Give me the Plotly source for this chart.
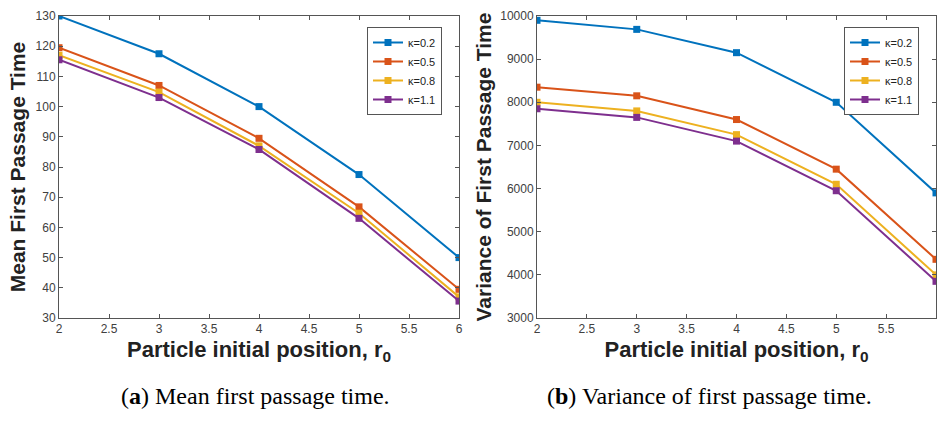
import plotly.graph_objects as go

r0 = [2, 3, 4, 5, 6]
kappa_labels = ["κ=0.2", "κ=0.5", "κ=0.8", "κ=1.1"]
mean_fpt = [
    [130, 117.5, 100, 77.5, 50],
    [119.5, 107, 89.5, 66.8, 39.5],
    [117, 104.8, 87, 64.7, 37],
    [115.5, 103, 85.8, 63, 35.6],
]
var_fpt = [
    [9900, 9690, 9150, 8000, 5900],
    [8350, 8150, 7600, 6450, 4360],
    [8000, 7800, 7250, 6100, 4000],
    [7850, 7650, 7100, 5950, 3850],
]
colors = ["#0072BD", "#D95319", "#EDB120", "#7E2F8E"]

W, H = 937, 425
def fx(px): return px / W
def fy(py): return 1 - py / H

fig = go.Figure()
for i, lab in enumerate(kappa_labels):
    fig.add_trace(go.Scatter(x=r0, y=mean_fpt[i], name=lab, mode="lines+markers",
                             line=dict(color=colors[i], width=2),
                             marker=dict(symbol="square", size=7, color=colors[i]),
                             xaxis="x", yaxis="y", legend="legend"))
for i, lab in enumerate(kappa_labels):
    fig.add_trace(go.Scatter(x=r0, y=var_fpt[i], name=lab, mode="lines+markers",
                             line=dict(color=colors[i], width=2),
                             marker=dict(symbol="square", size=7, color=colors[i]),
                             xaxis="x2", yaxis="y2", legend="legend2"))

axis_common = dict(showline=True, linecolor="#555", linewidth=1, mirror="allticks",
                   ticks="inside", ticklen=4, tickcolor="#555", showgrid=False, zeroline=False,
                   automargin=False,
                   tickfont=dict(family="Liberation Sans", size=12, color="#404040"))
xtitle_font = dict(family="Liberation Sans", size=22, color="#222")
ytitle_font = dict(family="Liberation Sans", size=21, color="#222")

fig.update_layout(
    width=W, height=H, margin=dict(l=0, r=0, t=0, b=0),
    plot_bgcolor="white", paper_bgcolor="white",
    xaxis=dict(domain=[fx(59), fx(459)], range=[2, 6], dtick=0.5, anchor="y",
               title=dict(text="<b>Particle initial position, r<sub>0</sub></b>", font=xtitle_font, standoff=6),
               **axis_common),
    yaxis=dict(domain=[fy(318), fy(16)], range=[30, 130], dtick=10, anchor="x",
               title=dict(text="<b>Mean First Passage Time</b>", font=ytitle_font, standoff=4),
               **axis_common),
    xaxis2=dict(domain=[fx(537), fx(936)], range=[2, 6], dtick=0.5, anchor="y2",
                title=dict(text="<b>Particle initial position, r<sub>0</sub></b>", font=xtitle_font, standoff=6),
                **axis_common),
    yaxis2=dict(domain=[fy(318), fy(16)], range=[3000, 10000], dtick=1000, anchor="x2",
                tickformat="d",
                title=dict(text="<b>Variance of First Passage Time</b>", font=ytitle_font, standoff=2),
                **axis_common),
    legend=dict(x=fx(367), y=fy(27), xanchor="left", yanchor="top",
                bordercolor="#555", borderwidth=1, bgcolor="white",
                font=dict(family="Liberation Sans", size=11, color="#222"), tracegroupgap=0),
    legend2=dict(x=fx(844), y=fy(27), xanchor="left", yanchor="top",
                 bordercolor="#555", borderwidth=1, bgcolor="white",
                 font=dict(family="Liberation Sans", size=11, color="#222"), tracegroupgap=0),
    showlegend=True,
)

cap_font = dict(family="Liberation Serif", size=24, color="black")
fig.add_annotation(text="(<b>a</b>) Mean first passage time.", x=fx(255), y=fy(396),
                   xanchor="center", yanchor="middle",
                   xref="paper", yref="paper", showarrow=False, font=cap_font)
fig.add_annotation(text="(<b>b</b>) Variance of first passage time.", x=fx(709), y=fy(396),
                   xanchor="center", yanchor="middle",
                   xref="paper", yref="paper", showarrow=False, font=cap_font)

fig.write_html("out.html", config={"displayModeBar": False},
               post_script="document.body.style.margin='0px';")
